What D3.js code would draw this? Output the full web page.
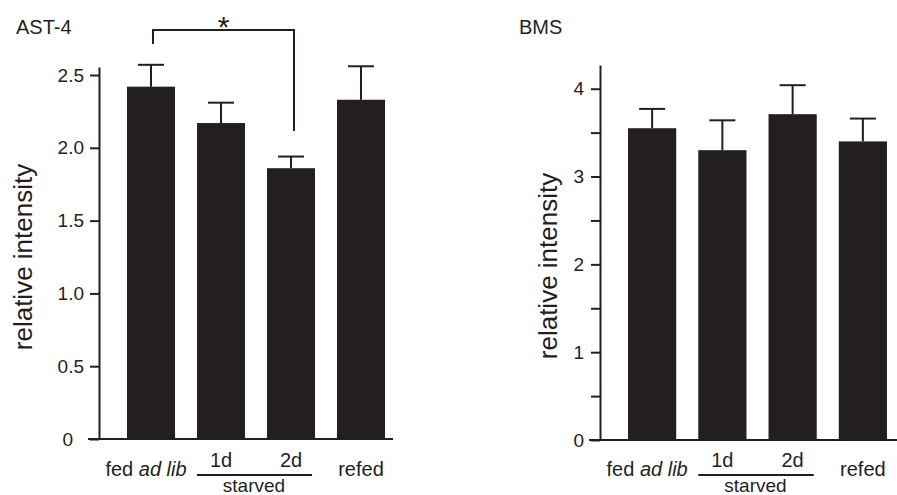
<!DOCTYPE html>
<html>
<head>
<meta charset="utf-8">
<script src="https://cdn.jsdelivr.net/npm/d3@7"></script>
<style>
body { margin: 0; background: #fff; }
svg text { font-family: "Liberation Sans", Arial, sans-serif; fill: #231f20; }
</style>
</head>
<body>
<script>
const categories = ["fed ad lib", "1d", "2d", "refed"];
const ast4Means = [2.42, 2.17, 1.86, 2.33];
const ast4Errors = [0.15, 0.14, 0.08, 0.23];
const bmsMeans = [3.55, 3.30, 3.71, 3.40];
const bmsErrors = [0.22, 0.34, 0.33, 0.26];
const ast4Ticks = [0, 0.5, 1, 1.5, 2, 2.5];
const bmsTicks = [0, 0.5, 1, 1.5, 2, 2.5, 3, 3.5, 4];

const ink = "#231f20";
const font = "Liberation Sans, Arial, sans-serif";

const svg = d3.select("body").append("svg")
    .attr("width", 897)
    .attr("height", 495);

function drawPanel(opt) {
    const g = svg.append("g");

    const x = d3.scaleBand()
        .domain(categories)
        .range(opt.xRange)
        .paddingInner(0.314)
        .paddingOuter(0.157);

    const y = d3.scaleLinear()
        .domain([0, opt.yMax])
        .range(opt.yRange);

    const rows = categories.map((c, i) => ({ c: c, v: opt.means[i], e: opt.errors[i] }));
    const cx = d => x(d.c) + x.bandwidth() / 2;

    //error bars (behind the bars)
    g.selectAll("line.err")
        .data(rows)
        .join("line")
        .attr("x1", cx).attr("x2", cx)
        .attr("y1", d => y(d.v)).attr("y2", d => y(d.v + d.e))
        .attr("stroke", ink).attr("stroke-width", 2);
    g.selectAll("line.cap")
        .data(rows)
        .join("line")
        .attr("x1", d => cx(d) - 13).attr("x2", d => cx(d) + 13)
        .attr("y1", d => y(d.v + d.e)).attr("y2", d => y(d.v + d.e))
        .attr("stroke", ink).attr("stroke-width", 2);

    //bars
    g.selectAll("rect.bar")
        .data(rows)
        .join("rect")
        .attr("x", d => x(d.c))
        .attr("y", d => y(d.v))
        .attr("width", x.bandwidth())
        .attr("height", d => y(0) - y(d.v))
        .attr("fill", ink);

    //y axis
    const axis = g.append("g")
        .attr("transform", `translate(${opt.axisX},0)`)
        .call(d3.axisLeft(y)
            .tickValues(opt.ticks)
            .tickFormat(opt.format)
            .tickSize(9)
            .tickSizeOuter(0)
            .tickPadding(opt.pad));
    axis.attr("font-family", font).attr("font-size", 19);
    axis.selectAll("path, line").attr("stroke", ink).attr("stroke-width", 2);
    axis.selectAll("text").attr("fill", ink);
    if (opt.zeroShift) {
        axis.selectAll(".tick text").filter(d => d === 0).attr("x", -(9 + opt.pad + opt.zeroShift));
    }

    //baseline
    g.append("line")
        .attr("x1", opt.baseX[0]).attr("x2", opt.baseX[1])
        .attr("y1", y(0)).attr("y2", y(0))
        .attr("stroke", ink).attr("stroke-width", 2);

    //axis title + panel title
    g.append("text")
        .attr("transform", `translate(${opt.yTitleX},${opt.yTitleY}) rotate(-90)`)
        .attr("text-anchor", "middle")
        .attr("font-size", 26)
        .text("relative intensity");
    g.append("text")
        .attr("x", opt.titleX).attr("y", 34)
        .attr("font-size", 20)
        .text(opt.title);

    //category labels
    const lab = g.append("g").attr("font-size", 20).attr("text-anchor", "middle");
    const fed = lab.append("text")
        .attr("x", cx(rows[0]) - 5).attr("y", 476);
    fed.append("tspan").text("fed ");
    fed.append("tspan").attr("font-style", "italic").text("ad lib");
    lab.append("text").attr("x", cx(rows[1])).attr("y", 467).text(categories[1]);
    lab.append("text").attr("x", cx(rows[2])).attr("y", 467).text(categories[2]);
    lab.append("text").attr("x", cx(rows[3])).attr("y", 476).text(categories[3]);
    lab.append("line")
        .attr("x1", x(categories[1])).attr("x2", x(categories[2]) + x.bandwidth() - 3)
        .attr("y1", 475).attr("y2", 475)
        .attr("stroke", ink).attr("stroke-width", 2);
    lab.append("text")
        .attr("x", (cx(rows[1]) + cx(rows[2])) / 2 - 2).attr("y", 492)
        .attr("font-size", 19)
        .text("starved");

    return { x: x, y: y, cx: cx, rows: rows, g: g };
}

const left = drawPanel({
    title: "AST-4", titleX: 16,
    means: ast4Means, errors: ast4Errors, ticks: ast4Ticks,
    format: d => d === 0 ? "0" : d3.format(".1f")(d),
    xRange: [116, 396], axisX: 99, yMax: 2.555, yRange: [439, 67],
    baseX: [88, 393], pad: 6, zeroShift: 11,
    yTitleX: 32, yTitleY: 257
});

drawPanel({
    title: "BMS", titleX: 519,
    means: bmsMeans, errors: bmsErrors, ticks: bmsTicks,
    format: d => Number.isInteger(d) ? d : "",
    xRange: [617, 898], axisX: 600, yMax: 4.27, yRange: [440, 65],
    baseX: [589, 897], pad: 7, zeroShift: 0,
    yTitleX: 557, yTitleY: 266
});

//significance bracket between fed ad lib and 2d starved
const xa = left.cx(left.rows[0]) + 2, xb = left.cx(left.rows[2]) + 3;
left.g.append("path")
    .attr("d", `M${xa},44V30H${xb}V131`)
    .attr("fill", "none")
    .attr("stroke", ink).attr("stroke-width", 2);
left.g.append("text")
    .attr("x", (xa + xb) / 2).attr("y", 37)
    .attr("text-anchor", "middle")
    .attr("font-size", 30)
    .text("*");
</script>
</body>
</html>
